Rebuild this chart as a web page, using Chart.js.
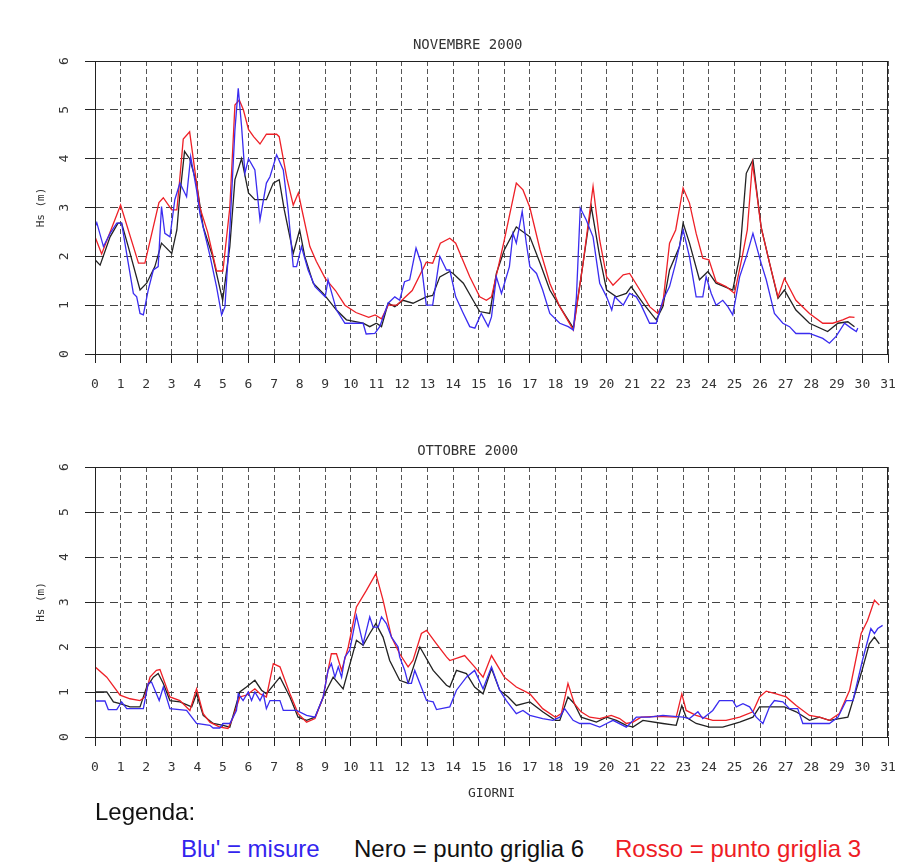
<!DOCTYPE html>
<html lang="it">
<head>
  <meta charset="UTF-8" />
  <title>Hs - Novembre / Ottobre 2000</title>
  <script src="https://cdn.jsdelivr.net/npm/chart.js"></script>
  <style>
    body {
      margin: 0;
      background: #fff;
      width: 899px;
      height: 868px;
      overflow: hidden;
      position: relative;
      font-family: 'Liberation Sans', Arial, sans-serif;
    }
    .box { position: absolute; left: 0; width: 899px; }
    #boxNov { top: 0; height: 410px; }
    #boxOtt { top: 410px; height: 400px; }
    .leg { position: absolute; font-size: 24px; line-height: 1; white-space: nowrap; }
  </style>
</head>
<body>

  <div class="box" id="boxNov"><canvas id="chartNov"></canvas></div>
  <div class="box" id="boxOtt"><canvas id="chartOtt"></canvas></div>

  <!-- Legenda -->
  <div class="leg" style="left:95px; top:800px; color:#111;">Legenda:</div>
  <div class="leg" style="left:181px; top:837px; color:#3324ee;">Blu' = misure</div>
  <div class="leg" style="left:354px; top:837px; color:#111;">Nero = punto griglia 6</div>
  <div class="leg" style="left:615px; top:837px; color:#ee1c25;">Rosso = punto griglia 3</div>

  <script>
    // ---- NOVEMBRE 2000 ----
    const novBluX = [0, 0.07, 0.33, 0.59, 0.85, 1.04, 1.3, 1.5, 1.63, 1.76, 1.89, 2.08, 2.28, 2.47, 2.6, 2.73, 2.93, 3.12, 3.32, 3.58, 3.74, 3.97, 4.1, 4.5, 4.75, 4.95, 5.08, 5.27, 5.47, 5.6, 5.73, 5.86, 6.0, 6.25, 6.45, 6.7, 6.84, 7.1, 7.36, 7.55, 7.75, 7.88, 8.07, 8.33, 8.6, 9.0, 9.11, 9.44, 9.77, 10.48, 10.6, 10.94, 11.13, 11.46, 11.72, 11.91, 12.1, 12.3, 12.55, 12.75, 12.95, 13.2, 13.48, 13.74, 13.87, 14.1, 14.4, 14.65, 14.85, 15.1, 15.37, 15.5, 15.69, 15.89, 16.2, 16.34, 16.47, 16.7, 16.86, 17.0, 17.26, 17.5, 17.78, 18.17, 18.5, 18.7, 18.82, 18.97, 19.2, 19.47, 19.73, 20.0, 20.2, 20.32, 20.65, 20.9, 21.16, 21.35, 21.68, 21.94, 22.2, 22.46, 22.7, 22.99, 23.24, 23.5, 23.76, 23.89, 24.09, 24.28, 24.54, 24.74, 24.93, 25.2, 25.46, 25.72, 26.04, 26.24, 26.56, 26.89, 27.15, 27.4, 27.93, 28.45, 28.71, 28.97, 29.3, 29.56, 29.76, 29.82];
    const novBluY = [2.6, 2.69, 2.2, 2.47, 2.68, 2.68, 1.86, 1.24, 1.17, 0.83, 0.8, 1.31, 1.72, 1.79, 3.02, 2.47, 2.4, 3.16, 3.5, 3.22, 4.04, 3.36, 2.88, 2.0, 1.38, 0.8, 0.97, 2.54, 4.59, 5.44, 4.66, 3.7, 4.0, 3.77, 2.75, 3.5, 3.63, 4.08, 3.77, 2.95, 1.79, 1.79, 2.2, 1.72, 1.38, 1.17, 1.52, 0.9, 0.63, 0.63, 0.41, 0.42, 0.56, 1.04, 1.17, 1.1, 1.48, 1.52, 2.17, 1.86, 1.0, 1.0, 2.0, 1.72, 1.72, 1.17, 0.83, 0.56, 0.53, 0.83, 0.56, 0.76, 1.58, 1.24, 1.79, 2.47, 2.27, 2.92, 2.27, 1.79, 1.65, 1.31, 0.83, 0.63, 0.56, 0.49, 1.17, 2.99, 2.75, 2.4, 1.45, 1.17, 0.9, 1.17, 1.0, 1.24, 1.17, 1.0, 0.63, 0.63, 1.1, 1.38, 1.86, 2.54, 1.99, 1.17, 1.17, 1.58, 1.24, 1.0, 1.1, 0.97, 0.8, 1.58, 1.99, 2.47, 1.86, 1.52, 0.83, 0.63, 0.56, 0.42, 0.42, 0.32, 0.22, 0.36, 0.63, 0.53, 0.46, 0.53];

    const novNeroX = [0, 0.2, 0.59, 0.9, 1.04, 1.3, 1.76, 2.02, 2.34, 2.6, 3.0, 3.2, 3.3, 3.5, 3.7, 3.97, 4.23, 4.6, 4.99, 5.27, 5.47, 5.73, 6.0, 6.25, 6.7, 6.97, 7.2, 7.4, 7.75, 8.0, 8.2, 8.53, 8.92, 9.44, 9.83, 10.48, 10.74, 11.0, 11.2, 11.46, 11.72, 12.04, 12.43, 12.95, 13.2, 13.48, 13.87, 14.0, 14.4, 14.78, 15.04, 15.43, 15.69, 16.0, 16.47, 17.0, 17.4, 17.78, 18.17, 18.7, 19.08, 19.4, 19.73, 20.0, 20.38, 20.77, 20.96, 21.42, 21.94, 22.2, 22.46, 22.85, 22.99, 23.24, 23.63, 23.96, 24.28, 24.93, 25.2, 25.46, 25.72, 26.04, 26.37, 26.7, 26.95, 27.4, 27.93, 28.64, 29.04, 29.43, 29.69];
    const novNeroY = [1.93, 1.82, 2.4, 2.68, 2.68, 2.2, 1.31, 1.45, 1.79, 2.27, 2.06, 2.54, 3.16, 4.15, 4.0, 3.5, 2.6, 2.0, 1.1, 2.2, 3.57, 4.0, 3.3, 3.16, 3.16, 3.5, 3.57, 2.95, 2.06, 2.54, 2.0, 1.45, 1.24, 0.9, 0.7, 0.63, 0.56, 0.63, 0.56, 1.04, 0.97, 1.1, 1.04, 1.17, 1.2, 1.58, 1.69, 1.65, 1.45, 1.1, 0.87, 0.83, 1.65, 2.13, 2.6, 2.4, 1.86, 1.31, 0.97, 0.53, 1.86, 3.02, 2.0, 1.31, 1.17, 1.24, 1.38, 1.04, 0.7, 0.97, 1.72, 2.2, 2.68, 2.27, 1.52, 1.69, 1.45, 1.31, 1.99, 3.7, 3.98, 2.6, 1.86, 1.14, 1.31, 0.9, 0.63, 0.46, 0.63, 0.66, 0.56];

    const novRossoX = [0, 0.26, 1.0, 1.7, 1.95, 2.5, 2.67, 3.0, 3.2, 3.3, 3.45, 3.7, 4.1, 4.4, 4.75, 5.0, 5.27, 5.47, 5.64, 5.8, 6.0, 6.2, 6.45, 6.7, 7.1, 7.2, 7.5, 7.75, 7.95, 8.07, 8.4, 8.65, 9.0, 9.4, 9.77, 10.2, 10.7, 10.95, 11.2, 11.46, 11.8, 12.1, 12.4, 12.95, 13.2, 13.5, 13.87, 14.1, 14.65, 15.04, 15.3, 15.5, 16.0, 16.47, 16.73, 17.0, 17.4, 17.78, 18.17, 18.7, 19.08, 19.47, 19.73, 20.0, 20.25, 20.65, 20.9, 21.3, 21.68, 22.0, 22.2, 22.46, 22.7, 22.99, 23.24, 23.5, 23.76, 24.0, 24.28, 24.67, 25.0, 25.3, 25.5, 25.7, 25.85, 26.04, 26.37, 26.7, 26.95, 27.4, 27.93, 28.45, 28.84, 29.23, 29.5, 29.69];
    const novRossoY = [2.4, 2.05, 3.05, 1.86, 1.86, 3.1, 3.2, 2.95, 2.95, 3.5, 4.4, 4.55, 3.0, 2.5, 1.7, 1.7, 3.0, 5.1, 5.2, 5.0, 4.6, 4.45, 4.3, 4.5, 4.5, 4.45, 3.6, 3.05, 3.3, 3.0, 2.2, 1.9, 1.55, 1.3, 1.0, 0.85, 0.75, 0.8, 0.72, 1.0, 1.0, 1.15, 1.3, 1.88, 1.86, 2.27, 2.37, 2.27, 1.58, 1.17, 1.1, 1.17, 2.33, 3.5, 3.36, 3.0, 2.13, 1.45, 0.97, 0.49, 1.86, 3.43, 2.33, 1.58, 1.41, 1.62, 1.65, 1.31, 0.97, 0.83, 1.04, 2.27, 2.54, 3.4, 3.09, 2.47, 1.96, 1.93, 1.48, 1.38, 1.24, 1.99, 2.54, 3.9, 3.36, 2.6, 1.86, 1.17, 1.55, 1.1, 0.83, 0.63, 0.63, 0.7, 0.76, 0.75];

    // ---- OTTOBRE 2000 ----
    const ottBluX = [0, 0.39, 0.52, 0.85, 1.04, 1.24, 1.89, 2.08, 2.21, 2.51, 2.67, 2.93, 3.58, 3.97, 4.49, 4.62, 4.88, 5.01, 5.27, 5.53, 5.6, 5.79, 5.99, 6.12, 6.25, 6.45, 6.58, 6.7, 6.84, 7.23, 7.36, 7.88, 8.27, 8.6, 8.92, 9.11, 9.24, 9.38, 9.51, 9.64, 9.77, 9.96, 10.22, 10.48, 10.74, 10.87, 11.07, 11.2, 11.39, 11.59, 11.85, 11.91, 12.11, 12.24, 12.37, 12.5, 12.96, 13.22, 13.35, 13.87, 14.13, 14.52, 14.84, 15.17, 15.5, 15.82, 16.08, 16.47, 16.73, 17.0, 17.5, 17.9, 18.17, 18.36, 18.69, 18.95, 19.34, 19.73, 20.0, 20.25, 20.77, 21.16, 21.68, 22.2, 22.99, 23.24, 23.57, 23.76, 24.15, 24.41, 24.93, 25.07, 25.33, 25.59, 25.85, 26.11, 26.37, 26.56, 26.89, 27.15, 27.47, 27.67, 28.19, 28.71, 29.04, 29.37, 29.63, 30.0, 30.33, 30.47, 30.6, 30.79];
    const ottBluY = [0.8, 0.8, 0.61, 0.61, 0.78, 0.63, 0.63, 1.19, 1.22, 0.81, 1.11, 0.63, 0.59, 0.3, 0.26, 0.2, 0.2, 0.3, 0.3, 0.59, 0.96, 0.81, 1.0, 0.81, 1.0, 0.81, 0.96, 0.63, 0.81, 0.81, 0.59, 0.59, 0.48, 0.44, 0.89, 1.48, 1.63, 1.33, 1.56, 1.33, 1.78, 1.93, 2.7, 2.07, 2.67, 2.44, 2.44, 2.67, 2.52, 2.22, 2.0, 1.78, 1.48, 1.19, 1.19, 1.48, 0.81, 0.78, 0.61, 0.67, 1.04, 1.33, 1.48, 1.07, 1.56, 1.04, 0.81, 0.52, 0.59, 0.48, 0.41, 0.37, 0.44, 0.63, 0.37, 0.3, 0.3, 0.22, 0.3, 0.37, 0.22, 0.44, 0.44, 0.48, 0.44, 0.41, 0.56, 0.41, 0.59, 0.81, 0.81, 0.67, 0.74, 0.67, 0.44, 0.3, 0.67, 0.81, 0.78, 0.63, 0.63, 0.3, 0.3, 0.3, 0.44, 0.81, 0.81, 1.7, 2.41, 2.3, 2.41, 2.48];

    const ottNeroX = [0, 0.46, 0.72, 0.98, 1.37, 1.76, 2.02, 2.28, 2.47, 2.67, 2.93, 3.32, 3.78, 3.97, 4.23, 4.62, 5.01, 5.27, 5.66, 5.92, 6.25, 6.51, 6.7, 7.23, 7.62, 7.94, 8.27, 8.6, 8.98, 9.31, 9.7, 10.22, 10.48, 10.74, 10.98, 11.26, 11.52, 11.91, 12.24, 12.7, 13.22, 13.74, 13.87, 14.13, 14.52, 14.84, 15.17, 15.5, 15.82, 16.15, 16.47, 17.0, 17.5, 18.0, 18.17, 18.49, 18.74, 19.0, 19.6, 20.0, 20.38, 20.77, 21.03, 21.42, 22.2, 22.72, 22.94, 23.11, 23.5, 24.02, 24.54, 25.2, 25.72, 25.98, 26.5, 26.95, 27.41, 27.93, 28.32, 28.71, 29.43, 29.95, 30.27, 30.47, 30.66];
    const ottNeroY = [1.0, 1.0, 0.78, 0.74, 0.67, 0.67, 1.11, 1.33, 1.41, 1.19, 0.81, 0.78, 0.67, 0.96, 0.48, 0.3, 0.26, 0.22, 1.0, 1.11, 1.26, 1.04, 0.96, 1.33, 0.89, 0.44, 0.37, 0.44, 0.96, 1.33, 1.07, 2.15, 2.04, 2.3, 2.52, 2.22, 1.7, 1.26, 1.19, 2.0, 1.48, 1.15, 1.11, 1.48, 1.41, 1.11, 0.96, 1.52, 1.04, 0.89, 0.7, 0.78, 0.56, 0.37, 0.37, 0.89, 0.74, 0.44, 0.33, 0.44, 0.37, 0.26, 0.22, 0.37, 0.3, 0.26, 0.7, 0.44, 0.3, 0.22, 0.22, 0.33, 0.44, 0.67, 0.67, 0.67, 0.56, 0.37, 0.44, 0.37, 0.44, 1.41, 2.07, 2.22, 2.07];

    const ottRossoX = [0, 0.46, 0.98, 1.37, 1.76, 1.95, 2.15, 2.4, 2.54, 2.93, 3.32, 3.71, 3.97, 4.23, 4.49, 4.88, 5.2, 5.4, 5.66, 5.92, 6.25, 6.45, 6.7, 6.97, 7.23, 7.62, 7.94, 8.27, 8.6, 8.92, 9.11, 9.24, 9.44, 9.64, 9.9, 10.22, 10.61, 10.98, 11.26, 11.59, 11.91, 12.24, 12.43, 12.76, 12.96, 13.35, 13.74, 13.87, 14.45, 14.84, 15.17, 15.5, 16.0, 16.47, 17.0, 17.5, 18.0, 18.23, 18.49, 18.74, 19.0, 19.34, 19.73, 20.18, 20.51, 20.77, 21.03, 21.35, 21.94, 22.72, 22.94, 23.11, 23.5, 24.15, 24.67, 25.2, 25.72, 25.98, 26.24, 26.63, 27.02, 27.41, 27.93, 28.32, 28.71, 29.1, 29.5, 29.95, 30.2, 30.47, 30.66];
    const ottRossoY = [1.56, 1.33, 0.93, 0.85, 0.81, 0.89, 1.33, 1.48, 1.5, 0.89, 0.81, 0.59, 1.07, 0.52, 0.33, 0.22, 0.19, 0.44, 0.89, 0.93, 1.07, 0.96, 0.89, 1.63, 1.56, 0.96, 0.52, 0.33, 0.41, 0.89, 1.48, 1.85, 1.85, 1.48, 2.0, 2.89, 3.26, 3.63, 3.04, 2.22, 1.85, 1.56, 1.7, 2.3, 2.37, 2.07, 1.78, 1.7, 1.81, 1.56, 1.33, 1.81, 1.33, 1.11, 0.96, 0.63, 0.44, 0.52, 1.19, 0.74, 0.56, 0.44, 0.41, 0.48, 0.41, 0.3, 0.33, 0.44, 0.46, 0.44, 0.96, 0.59, 0.48, 0.37, 0.37, 0.44, 0.56, 0.89, 1.02, 0.96, 0.89, 0.7, 0.48, 0.44, 0.37, 0.52, 1.04, 2.3, 2.59, 3.04, 2.93];

    const chartFont = { family: 'DejaVu Sans Mono', size: 13 };

    function toPoints(xs, ys) {
      return xs.map((x, i) => ({ x: x, y: ys[i] }));
    }

    // box, title and rotated y labels
    const frame = {
      id: 'frame',
      afterDraw(chart, args, opts) {
        const { ctx, chartArea: a, scales: { y } } = chart;
        ctx.save();
        ctx.strokeStyle = '#222';
        ctx.lineWidth = 1;
        ctx.strokeRect(Math.round(a.left) + 0.5, Math.round(a.top) + 0.5, Math.round(a.width) - 1, Math.round(a.height));
        ctx.fillStyle = '#333';
        ctx.font = '14px "DejaVu Sans Mono"';
        ctx.textAlign = 'center';
        ctx.textBaseline = 'middle';
        ctx.fillText(opts.text, a.left + a.width * 0.47, a.top - 16);
        ctx.font = '13px "DejaVu Sans Mono"';
        y.ticks.forEach(t => {
          ctx.save();
          ctx.translate(65, y.getPixelForValue(t.value));
          ctx.rotate(-Math.PI / 2);
          ctx.fillText(String(t.value), 0, 0);
          ctx.restore();
        });
        ctx.restore();
      }
    };

    function makeChart(id, title, blu, nero, rosso, padTop, xHeight, xTitle) {
      return new Chart(document.getElementById(id), {
        type: 'line',
        data: {
          datasets: [
            { label: "Blu' = misure", data: blu, borderColor: '#3a2cf0' },
            { label: 'Rosso = punto griglia 3', data: rosso, borderColor: '#ee2027' },
            { label: 'Nero = punto griglia 6', data: nero, borderColor: '#222' }
          ]
        },
        options: {
          animation: false,
          responsive: true,
          maintainAspectRatio: false,
          layout: { padding: { top: padTop, right: 11, left: 0, bottom: 0 } },
          elements: {
            point: { radius: 0 },
            line: { borderWidth: 1.3, tension: 0 }
          },
          plugins: {
            legend: { display: false },
            tooltip: { enabled: false },
            frame: { text: title }
          },
          scales: {
            x: {
              type: 'linear', min: 0, max: 31,
              ticks: { stepSize: 1, autoSkip: false, maxRotation: 0, padding: 14, color: '#333', font: chartFont },
              grid: { color: '#555', tickColor: '#222', tickLength: 9 },
              border: { color: '#222', dash: [5, 3] },
              title: { display: !!xTitle, text: xTitle || '', color: '#333', font: chartFont, padding: { top: 0, bottom: 9 } },
              afterFit: s => { s.height = xHeight; s.paddingLeft = 0; s.paddingRight = 0; }
            },
            y: {
              min: 0, max: 6,
              ticks: { stepSize: 1, display: false },
              grid: { color: '#444', tickColor: '#222', tickLength: 10 },
              border: { color: '#222', dash: [8, 6] },
              title: { display: true, text: 'Hs (m)', color: '#333', font: { family: 'DejaVu Sans Mono', size: 11 }, padding: { top: 35, bottom: 0 } },
              afterFit: s => { s.width = 95; }
            }
          }
        },
        plugins: [frame]
      });
    }

    makeChart('chartNov', 'NOVEMBRE 2000',
      toPoints(novBluX, novBluY), toPoints(novNeroX, novNeroY), toPoints(novRossoX, novRossoY),
      61, 56, null);

    makeChart('chartOtt', 'OTTOBRE 2000',
      toPoints(ottBluX, ottBluY), toPoints(ottNeroX, ottNeroY), toPoints(ottRossoX, ottRossoY),
      57, 73, 'GIORNI');
  </script>
</body>
</html>
